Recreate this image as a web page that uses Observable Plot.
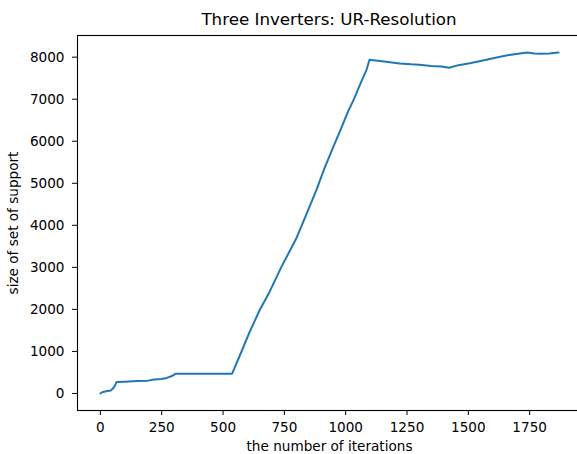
<!DOCTYPE html>
<html>
<head>
<meta charset="utf-8">
<script src="https://cdn.jsdelivr.net/npm/d3@7"></script>
<script src="https://cdn.jsdelivr.net/npm/@observablehq/plot@0.6"></script>
<style>
  html, body { margin: 0; padding: 0; background: #fff; }
  body { width: 577px; height: 454px; overflow: hidden; font-family: "DejaVu Sans", sans-serif; }
  #title { position: relative; height: 30px; }
  #title span { position: absolute; left: 329px; top: 9px; transform: translateX(-50%);
    font-size: 16.7px; line-height: 20px; white-space: nowrap; color: #000; }
</style>
</head>
<body>
<div id="title"><span>Three Inverters: UR-Resolution</span></div>
<div id="chart"></div>
<script>
const titleText = "Three Inverters: UR-Resolution";
const xLabel = "the number of iterations";
const yLabel = "size of set of support";
const xTicks = [0, 250, 500, 750, 1000, 1250, 1500, 1750];
const yTicks = [0, 1000, 2000, 3000, 4000, 5000, 6000, 7000, 8000];

const iterations = [0, 7, 24, 42, 50, 58, 66, 100, 150, 194, 220, 248, 270, 289, 300, 305, 400, 537,
  574, 608, 649, 689, 737, 798, 846, 880, 913, 947, 981, 1009, 1035, 1063, 1085, 1097,
  1165, 1220, 1266, 1300, 1348, 1390, 1422, 1460, 1511, 1550, 1592, 1630, 1673, 1710, 1741, 1770, 1796, 1830, 1868];
const supportSize = [0, 30, 50, 70, 110, 175, 270, 280, 295, 305, 330, 345, 370, 410, 440, 470, 470, 470,
  980, 1460, 1980, 2410, 3000, 3680, 4350, 4830, 5350, 5830, 6300, 6700, 7020, 7410, 7700, 7940,
  7890, 7850, 7830, 7820, 7790, 7780, 7750, 7810, 7860, 7910, 7960, 8010, 8060, 8090, 8110, 8090, 8080, 8090, 8110];

const data = iterations.map((x, i) => ({x, y: supportSize[i]}));

// matplotlib-like 5% auto margins
function padded(vals) {
  const lo = d3.min(vals), hi = d3.max(vals), p = (hi - lo) * 0.05;
  return [lo - p, hi + p];
}

const chart = Plot.plot({
  width: 577,
  height: 424,
  marginTop: 5,
  marginBottom: 44,
  marginLeft: 77,
  marginRight: -4,
  style: {fontFamily: "DejaVu Sans, sans-serif", fontSize: "13.6px", color: "#000", background: "#fff", overflow: "visible"},
  x: {domain: padded(iterations)},
  y: {domain: padded(supportSize)},
  marks: [
    Plot.frame({stroke: "#000", strokeWidth: 1.1}),
    Plot.axisX({ticks: xTicks, tickFormat: d => String(d), tickSize: 5, tickPadding: 6.5,
      label: xLabel, labelAnchor: "center", labelArrow: "none", labelOffset: 40, fontSize: 13.6}),
    Plot.axisY({ticks: yTicks, tickFormat: d => String(d), tickSize: 5, tickPadding: 8,
      label: yLabel, labelAnchor: "center", labelArrow: "none", labelOffset: 69, fontSize: 13.6}),
    Plot.line(data, {x: "x", y: "y", stroke: "#1f77b4", strokeWidth: 2, strokeLinejoin: "round"})
  ]
});
document.getElementById("chart").appendChild(chart);
</script>
</body>
</html>
